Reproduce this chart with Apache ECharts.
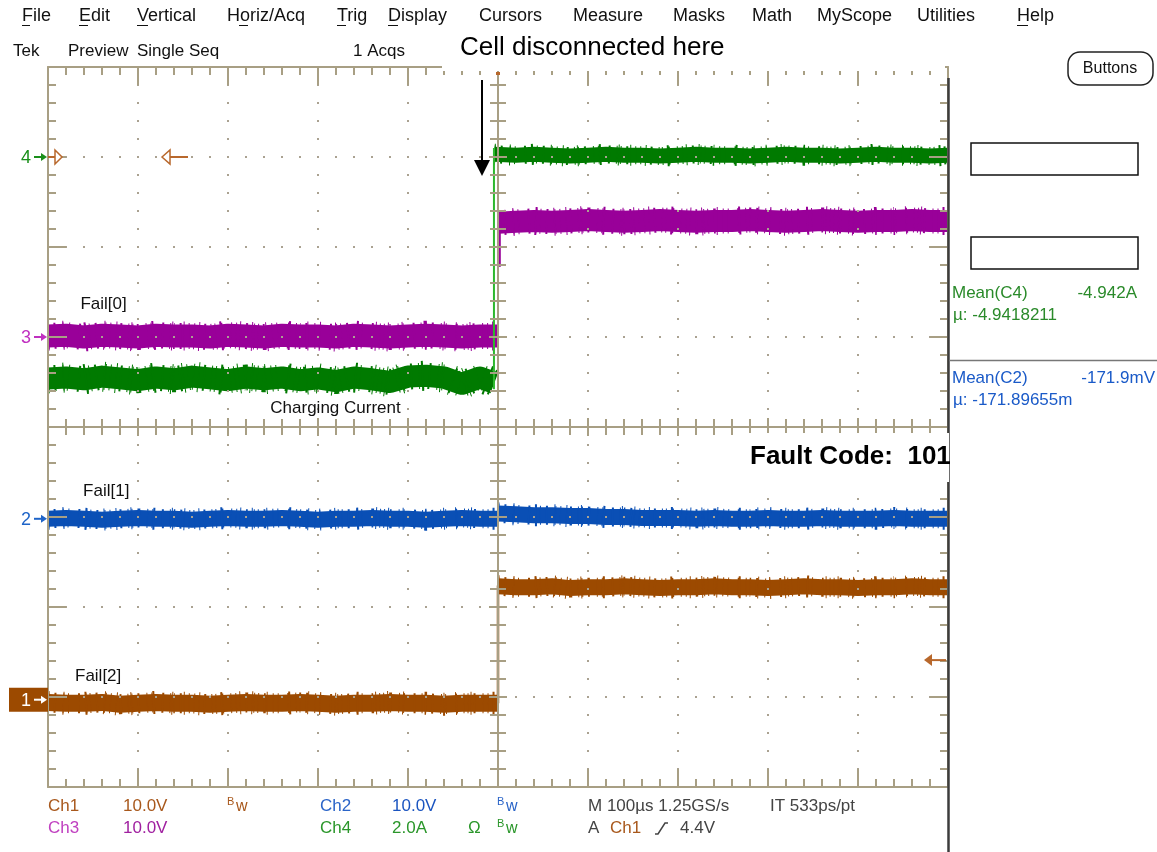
<!DOCTYPE html>
<html><head><meta charset="utf-8">
<script src="https://cdn.jsdelivr.net/npm/echarts@6/dist/echarts.min.js"></script>
<style>html,body{margin:0;padding:0;background:#fff;}#c{width:1157px;height:852px;}</style>
</head><body><div id="c"></div>
<script>
// ---------------- DATA (time in µs, amplitude in screen divisions) ----------------
const timeBefore = [-500,-480,-460,-440,-420,-400,-380,-360,-340,-320,-300,-280,-260,-240,-220,-200,-180,-160,-140,-120,-100,-80,-60,-40,-20,0];
const timeAfter = [0,20,40,60,80,100,120,140,160,180,200,220,240,260,280,300,320,340,360,380,400,420,440,460,480,500];
const greenTimeBefore = [-500,-480,-460,-440,-420,-400,-380,-360,-340,-320,-300,-280,-260,-240,-220,-200,-180,-160,-140,-120,-100,-80,-60,-40,-20,-4];
const greenTimeAfter = [-4,20,40,60,80,100,120,140,160,180,200,220,240,260,280,300,320,340,360,380,400,420,440,460,480,500];

const ch3Before = [1.01,1.02,1.00,1.02,1.01,1.00,1.02,1.01,1.01,1.00,1.02,1.01,1.00,1.02,1.01,1.01,1.00,1.02,1.01,1.00,1.01,1.02,1.01,1.00,1.01,1.01];
const ch3After  = [2.27,2.28,2.29,2.28,2.29,2.30,2.29,2.28,2.29,2.30,2.29,2.28,2.29,2.29,2.30,2.29,2.28,2.29,2.30,2.29,2.28,2.29,2.29,2.30,2.29,2.29];
const ch4Before = [0.54,0.55,0.53,0.56,0.54,0.52,0.55,0.53,0.56,0.54,0.52,0.55,0.53,0.55,0.52,0.54,0.51,0.55,0.53,0.50,0.56,0.57,0.55,0.48,0.55,0.49];
const ch4After  = [3.03,3.02,3.03,3.02,3.01,3.02,3.03,3.02,3.02,3.01,3.02,3.03,3.02,3.02,3.01,3.02,3.03,3.02,3.02,3.01,3.02,3.03,3.02,3.02,3.01,3.02];
const ch2Before = [-1.02,-1.01,-1.02,-1.03,-1.02,-1.01,-1.02,-1.02,-1.03,-1.02,-1.01,-1.02,-1.02,-1.01,-1.02,-1.03,-1.02,-1.02,-1.01,-1.02,-1.02,-1.03,-1.02,-1.01,-1.02,-1.02];
const ch2After  = [-0.96,-0.97,-0.98,-0.98,-0.99,-0.99,-1.00,-1.00,-1.01,-1.01,-1.01,-1.02,-1.01,-1.02,-1.02,-1.01,-1.02,-1.02,-1.01,-1.02,-1.02,-1.02,-1.01,-1.02,-1.02,-1.02];
const ch1Before = [-3.06,-3.07,-3.07,-3.06,-3.08,-3.07,-3.06,-3.07,-3.07,-3.08,-3.07,-3.06,-3.07,-3.07,-3.06,-3.07,-3.08,-3.07,-3.07,-3.06,-3.07,-3.07,-3.08,-3.07,-3.07,-3.07];
const ch1After  = [-1.77,-1.78,-1.78,-1.77,-1.79,-1.78,-1.78,-1.77,-1.78,-1.79,-1.78,-1.78,-1.77,-1.78,-1.78,-1.79,-1.78,-1.77,-1.78,-1.78,-1.79,-1.78,-1.78,-1.77,-1.78,-1.78];

const ch4StepTime = [-4.5,-4.5];   const ch4StepValue = [0.42,3.10];
const ch3StepTime = [0,0];         const ch3StepValue = [1.00,2.30];
const ch3SpikeTime = [2,2];        const ch3SpikeValue = [2.20,1.78];
const ch2StepTime = [0,0];         const ch2StepValue = [-1.02,-0.96];
const ch1StepTime = [0,0];         const ch1StepValue = [-3.07,-1.76];

const channelNames = ['1','2','3','4'];
const channelGround = [-3.03,-1.02,1.00,3.00];
const triggerVolts = 4.4;
const ch1VoltsPerDiv = 10.0;

const traceLabels = ['Fail[0]','Charging Current','Fail[1]','Fail[2]'];
const traceLabelTime = [-464,-253,-461,-470];
const traceLabelValue = [1.36,0.21,-0.72,-2.77];

const menuItems = ['File','Edit','Vertical','Horiz/Acq','Trig','Display','Cursors','Measure','Masks','Math','MyScope','Utilities','Help'];
const measureC4 = ['Mean(C4)','-4.942A','µ: -4.9418211'];
const measureC2 = ['Mean(C2)','-171.9mV','µ: -171.89655m'];

// ---------------- STYLE ----------------
const TAN = '#a89f84', DOT = '#aaa291';
const C_PUR = '#990099', C_GRN = '#007a00', C_BLU = '#0a4fb5', C_BRN = '#9c4a00', C_ORG = '#b8682c';
const FONT = "'Liberation Sans', Arial, sans-serif";
const NOISE_A = [1,5,2,7,1,4,1,9,2,6,1,3];
const NOISE_B = [1,14,1,21,2,17,1,11];

const chart = echarts.init(document.getElementById('c'), null, {width:1157, height:852});

function pts(times, vals){ return times.map((t,i)=>[t, vals[i]]); }
function band(times, vals, color, width) {
  return {type:'line', data: pts(times, vals), symbol:'none', silent:true,
    lineStyle:{color, width, cap:'butt', join:'round'}, z:1, animation:false};
}
function fuzz(times, vals, color, width, dash) {
  return {type:'line', data: pts(times, vals), symbol:'none', silent:true,
    lineStyle:{color, width, type:dash, cap:'butt', join:'round'}, z:1, animation:false};
}
function trace(times, vals, color, width, spread) {
  return [band(times, vals, color, width),
          fuzz(times, vals, color, width + spread, NOISE_A),
          fuzz(times, vals, color, width + 2*spread, NOISE_B)];
}
function thin(times, vals, color, width) {
  return {type:'line', data: pts(times, vals), symbol:'none', silent:true,
    lineStyle:{color, width, cap:'butt'}, z:1, animation:false};
}
const tick = {color:TAN, width:2};
function xAx(extra){ return Object.assign({type:'value', min:-500, max:500, interval:100, z:5,
  axisLabel:{show:false}, splitLine:{show:false}}, extra); }
function yAx(extra){ return Object.assign({type:'value', min:-4, max:4, interval:1, z:5,
  axisLabel:{show:false}, splitLine:{show:false}}, extra); }

const option = {
  backgroundColor:'#ffffff',
  animation:false,
  grid:{left:48, top:67, width:900, height:720, containLabel:false, outerBoundsMode:'none'},
  xAxis:[
    xAx({position:'bottom', axisLine:{onZero:false, lineStyle:{color:TAN,width:2}},
      axisTick:{inside:true,length:18,lineStyle:tick}, minorTick:{show:true,splitNumber:5,length:8,lineStyle:tick},
      splitLine:{show:true, lineStyle:{color:DOT,width:2,type:[2,16],dashOffset:1}}}),
    xAx({position:'top', axisLine:{onZero:false, lineStyle:{color:TAN,width:2}},
      axisTick:{inside:true,length:18,lineStyle:tick}, minorTick:{show:true,splitNumber:5,length:8,lineStyle:tick}}),
    xAx({position:'bottom', offset:-360, axisLine:{onZero:false, lineStyle:{color:TAN,width:2}},
      axisTick:{inside:true,length:9,lineStyle:tick}, minorTick:{show:true,splitNumber:5,length:8,lineStyle:tick}}),
    xAx({position:'bottom', offset:-360, axisLine:{show:false,onZero:false},
      axisTick:{inside:false,length:9,lineStyle:tick}, minorTick:{show:true,splitNumber:5,length:8,lineStyle:tick}})
  ],
  yAxis:[
    yAx({position:'left', axisLine:{onZero:false, lineStyle:{color:TAN,width:2}},
      axisTick:{inside:true,length:18,lineStyle:tick}, minorTick:{show:true,splitNumber:5,length:8,lineStyle:tick},
      splitLine:{show:true, lineStyle:{color:DOT,width:2,type:[2,16],dashOffset:1}}}),
    yAx({position:'right', axisLine:{onZero:false, lineStyle:{color:TAN,width:2}},
      axisTick:{inside:true,length:18,lineStyle:tick}, minorTick:{show:true,splitNumber:5,length:8,lineStyle:tick}}),
    yAx({position:'left', offset:-450, axisLine:{onZero:false, lineStyle:{color:TAN,width:2}},
      axisTick:{inside:true,length:9,lineStyle:tick}, minorTick:{show:true,splitNumber:5,length:8,lineStyle:tick}}),
    yAx({position:'left', offset:-450, axisLine:{show:false,onZero:false},
      axisTick:{inside:false,length:9,lineStyle:tick}, minorTick:{show:true,splitNumber:5,length:8,lineStyle:tick}})
  ],
  series:[].concat(
    trace(timeBefore, ch3Before, C_PUR, 23, 3),
    trace(timeAfter, ch3After, C_PUR, 22, 3),
    trace(greenTimeBefore, ch4Before, C_GRN, 22, 4),
    trace(greenTimeAfter, ch4After, C_GRN, 15, 3),
    trace(timeBefore, ch2Before, C_BLU, 16, 3),
    trace(timeAfter, ch2After, C_BLU, 16, 3),
    trace(timeBefore, ch1Before, C_BRN, 17, 3),
    trace(timeAfter, ch1After, C_BRN, 16, 3),
    [thin(ch4StepTime, ch4StepValue, '#2db82d', 2),
     thin(ch3StepTime, ch3StepValue, '#ff70ff', 2),
     thin(ch3SpikeTime, ch3SpikeValue, C_PUR, 2),
     thin(ch2StepTime, ch2StepValue, C_BLU, 2),
     thin(ch1StepTime, ch1StepValue, C_BRN, 2.5)]
  )
};
chart.setOption(option);

const P = (t,v) => chart.convertToPixel({xAxisIndex:0, yAxisIndex:0}, [t,v]);
const G = [];
function txt(x,y,text,color,size,opts){
  opts = opts||{};
  G.push({type:'text', x, y, z:opts.z||50, style:{text, fill:color,
    font:(opts.weight||'normal')+' '+size+'px '+FONT,
    align:opts.align||'left', textAlign:opts.align||'left',
    verticalAlign:'middle', textVerticalAlign:'middle'}});
}
function line(x1,y1,x2,y2,color,w,z){ G.push({type:'line', z:z||50, shape:{x1,y1,x2,y2}, style:{stroke:color,lineWidth:w}}); }
function poly(points,fill,stroke,z){ G.push({type:'polygon', z:z||50, shape:{points}, style:{fill:fill||'none', stroke:stroke||null, lineWidth:1.5}}); }
function rect(x,y,w,h,fill,stroke,z,r){ G.push({type:'rect', z:z||40, shape:{x,y,width:w,height:h,r:r||0}, style:{fill, stroke:stroke||null, lineWidth:1.5}}); }

// menu bar
const menuX = [22,79,137,227,337,388,479,573,673,752,817,917,1017];
const underline = [[22,30],[79,88],[137,148],[239,248],[337,346],[388,398],null,null,null,null,null,null,[1017,1028]];
menuItems.forEach((m,i)=>{ txt(menuX[i],16,m,'#111',18); if(underline[i]) line(underline[i][0],25.5,underline[i][1],25.5,'#111',1); });
// status row
txt(13,51,'Tek','#111',17); txt(68,51,'Preview','#111',17); txt(137,51,'Single Seq','#111',17); txt(353,51,'1 Acqs','#111',17);

// annotation box at top covering frame
rect(442,30,503,41,'#ffffff',null,60);
txt(460,48,'Cell disconnected here','#000',26,{z:61});
rect(496,72,4,3,C_ORG,null,61);
line(482,80,482,162,'#000',2,61);
poly([[474,160],[490,160],[482,176]],'#000',null,61);

// right panel divider
line(948.5,78,948.5,852,'#3c3c3c',2.5,55);
rect(1068,52,85,33,'#ffffff','#222',60,12);
txt(1110,69,'Buttons','#111',16,{align:'center',z:61});
rect(971,143,167,32,'#ffffff','#111',60);
rect(971,237,167,32,'#ffffff','#111',60);
txt(952,293,measureC4[0],'#2a8a2a',17); txt(1137,293,measureC4[1],'#2a8a2a',17,{align:'right'});
txt(953,315,measureC4[2],'#2a8a2a',17);
line(949,360.5,1157,360.5,'#777',1.5,60);
txt(952,378,measureC2[0],'#1a5ac8',17); txt(1155,378,measureC2[1],'#1a5ac8',17,{align:'right'});
txt(953,400,measureC2[2],'#1a5ac8',17);

// fault code box
rect(740,433,209,49,'#ffffff',null,70);
txt(750,457,'Fault Code:  101','#000',26,{weight:'bold',z:71});

// channel markers
const markColors = ['#ffffff','#1e64c8','#c030c0','#1a8f1a'];
channelNames.forEach((n,i)=>{
  const p = P(-500, channelGround[i]);
  const y = p[1];
  if(i===0){ rect(9,y-12,39,24,C_BRN,null,45); }
  txt(21,y+1,n,markColors[i],18,{z:46});
  line(34,y,42,y,markColors[i],2,46);
  poly([[41,y-4],[47,y],[41,y+4]],markColors[i],null,46);
});
// orange markers
{
  const y4 = P(-500, channelGround[3])[1];
  line(48,y4,55,y4,C_ORG,2,46);
  poly([[55,y4-7],[62,y4],[55,y4+7]],'#ffffff',C_ORG,46);
  poly([[162,y4],[170,y4-7],[170,y4+7]],'#ffffff',C_ORG,46);
  line(170,y4,188,y4,C_ORG,2,46);
  const yt = P(500, channelGround[0] + triggerVolts/ch1VoltsPerDiv)[1];
  poly([[924,yt],[932,yt-6],[932,yt+6]],C_ORG,null,46);
  line(932,yt,946,yt,C_ORG,2,46);
}
// trace labels
traceLabels.forEach((s,i)=>{ const p = P(traceLabelTime[i], traceLabelValue[i]); txt(p[0],p[1],s,'#111',17,{z:46}); });

// bottom readouts
function bw(x,y,color){ txt(x,y-4,'B',color,11); txt(x+9,y+1,'w',color,16); }
const R1 = 806, R2 = 828;
txt(48,R1,'Ch1','#a8581c',17); txt(123,R1,'10.0V','#a8581c',17); bw(227,R1,'#a8581c');
txt(320,R1,'Ch2','#2a64c8',17); txt(392,R1,'10.0V','#1a54c0',17); bw(497,R1,'#2a64c8');
txt(588,R1,'M 100µs 1.25GS/s','#444',17); txt(770,R1,'IT 533ps/pt','#444',17);
txt(48,R2,'Ch3','#c040c0',17); txt(123,R2,'10.0V','#a020a0',17);
txt(320,R2,'Ch4','#2a962a',17); txt(392,R2,'2.0A','#2a962a',17); txt(468,R2,'Ω','#2a962a',17); bw(497,R2,'#2a962a');
txt(588,R2,'A','#444',17); txt(610,R2,'Ch1','#a8581c',17);
G.push({type:'polyline', z:50, shape:{points:[[655,834],[658,834],[665,823],[668,823]]}, style:{stroke:'#444',lineWidth:1.5,fill:null}});
txt(680,R2,'4.4V','#444',17);

chart.setOption({graphic:G});
</script></body></html>
